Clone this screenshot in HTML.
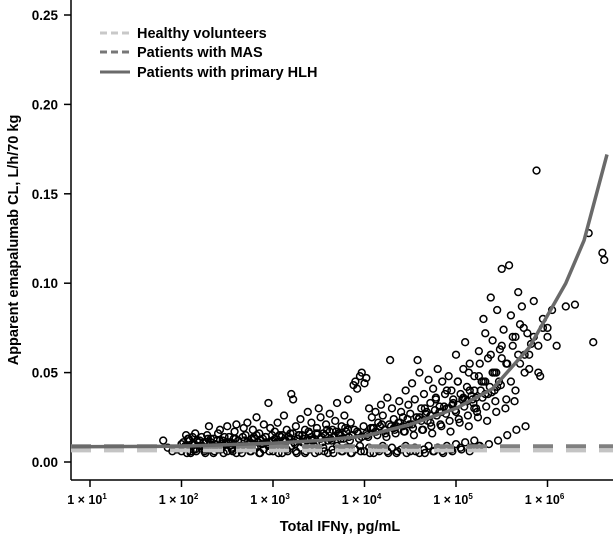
<!DOCTYPE html>
<html><head><meta charset="utf-8"><style>
body{margin:0;background:#fff;}
svg{display:block;font-family:"Liberation Sans",sans-serif;}
</style></head><body>
<svg id="chart" width="613" height="542" viewBox="0 0 613 542">
<g id="ax"></g>
<g id="pts"></g>
<g id="lines"></g>
<g id="legend">
<line x1="100" y1="33" x2="130" y2="33" stroke="#c8c8c8" stroke-width="3" stroke-dasharray="7,4"/>
<text x="137" y="38" font-size="14.5" font-weight="bold">Healthy volunteers</text>
<line x1="100" y1="52" x2="130" y2="52" stroke="#777" stroke-width="3" stroke-dasharray="7,4"/>
<text x="137" y="57" font-size="14.5" font-weight="bold">Patients with MAS</text>
<line x1="100" y1="72" x2="130" y2="72" stroke="#6a6a6a" stroke-width="3"/>
<text x="137" y="77" font-size="14.5" font-weight="bold">Patients with primary HLH</text>
</g>
<text x="18" y="240" transform="rotate(-90 18 240)" text-anchor="middle" font-size="14.5" font-weight="bold">Apparent emapalumab CL, L/h/70 kg</text>
<text x="340" y="531" text-anchor="middle" font-size="14.5" font-weight="bold">Total IFNγ, pg/mL</text>
</svg>
<script>
const yTicks=[0,0.05,0.10,0.15,0.20,0.25];
const yTickLabels=["0.00","0.05","0.10","0.15","0.20","0.25"];
const xTickExps=[1,2,3,4,5,6];
const xTickLabels=["1 × 10","1 × 10","1 × 10","1 × 10","1 × 10","1 × 10"];
const healthyCL=0.0065;
const masCL=0.0088;
const hlhLogIfn=[0.8,2,3,3.5,4,4.5,5,5.4,5.8,6.2,6.4,6.65];
const hlhCL=[0.0085,0.0088,0.0105,0.012,0.0145,0.021,0.03,0.041,0.064,0.100,0.124,0.172];
const ptsLogIfn=[1.8,1.85,1.9,1.95,2.0,2.05,2.08,2.1,2.12,2.15,2.2,2.22,2.25,2.28,2.3,2.32,2.35,2.38,2.4,2.42,2.45,2.48,2.5,2.52,2.55,2.58,2.6,2.62,2.65,2.68,2.7,2.72,2.75,2.78,2.8,2.82,2.85,2.88,2.9,2.92,2.95,2.97,3.0,3.02,3.05,3.08,3.1,3.12,3.15,3.18,3.2,3.22,3.25,3.28,3.3,3.32,3.35,3.38,3.4,3.42,3.45,3.48,3.5,3.52,3.55,3.58,3.6,3.62,3.65,3.68,3.7,3.72,3.75,3.78,3.8,3.82,3.85,3.88,3.9,3.92,3.95,3.97,4.0,4.02,4.05,4.08,4.1,4.12,4.15,4.18,4.2,4.22,4.25,4.28,4.3,4.32,4.35,4.38,4.4,4.42,4.45,4.48,4.5,4.52,4.55,4.58,4.6,4.62,4.65,4.68,4.7,4.72,4.75,4.78,4.8,4.82,4.85,4.88,4.9,4.92,4.95,4.97,5.0,5.02,5.05,5.08,5.1,5.12,5.15,5.18,5.2,5.22,5.25,5.28,5.3,5.32,5.35,5.38,5.4,5.42,5.45,5.48,5.5,5.52,5.55,5.58,5.6,5.62,5.65,5.68,5.7,5.72,5.75,5.78,5.8,5.82,5.85,5.88,5.9,5.92,5.95,6.0,6.05,6.1,6.2,6.3,6.45,6.5,6.6,6.62,
2.0,2.05,2.1,2.15,2.2,2.25,2.3,2.35,2.4,2.45,2.5,2.55,2.6,2.65,2.7,2.75,2.8,2.85,2.9,2.95,3.0,3.05,3.1,3.15,3.2,3.25,3.3,3.35,3.4,3.45,3.5,3.55,3.6,3.65,3.7,3.75,3.8,3.85,3.9,3.95,4.0,4.05,4.1,4.15,4.2,4.25,4.3,4.35,4.4,4.45,4.5,4.55,4.6,4.65,4.7,4.75,4.8,4.85,4.9,4.95,5.0,5.05,5.1,5.15,5.2,5.25,
2.02,2.07,2.12,2.17,2.22,2.27,2.32,2.37,2.42,2.47,2.52,2.57,2.62,2.67,2.72,2.77,2.82,2.87,2.92,2.97,3.02,3.07,3.12,3.17,3.22,3.27,3.32,3.37,3.42,3.47,3.52,3.57,3.62,3.67,3.72,3.77,3.82,3.87,3.92,3.97,4.02,4.07,4.12,4.17,4.22,4.27,4.32,4.37,4.42,4.47,4.52,4.57,4.62,4.67,4.72,4.77,4.82,4.87,4.92,4.97,5.02,5.07,5.12,5.17,5.22,5.27,5.32,5.37,5.42,5.47,
2.04,2.14,2.24,2.34,2.44,2.54,2.64,2.74,2.84,2.94,3.04,3.14,3.24,3.34,3.44,3.54,3.64,3.74,3.84,3.94,4.04,4.14,4.24,4.34,4.44,4.54,4.64,4.74,4.84,4.94,5.04,5.14,5.24,5.34,5.44,5.54,5.64,
2.03,2.09,2.13,2.19,2.23,2.29,2.33,2.39,2.43,2.49,2.53,2.59,2.63,2.69,2.73,2.79,2.83,2.89,2.93,2.99,3.03,3.09,3.13,3.19,3.23,3.29,3.33,3.39,3.43,3.49,3.53,3.59,3.63,3.69,3.73,3.79,3.83,3.89,3.93,3.99,4.03,4.09,4.13,4.19,4.23,4.29,4.33,4.39,4.43,4.49,4.53,4.59,4.63,4.69,4.73,4.79,4.83,4.89,4.93,4.99,5.03,5.09,5.13,5.19,5.23,5.29,5.33,5.39,5.43,5.49,
2.06,2.16,2.26,2.36,2.46,2.56,2.66,2.76,2.86,2.96,3.06,3.16,3.26,3.36,3.46,3.56,3.66,3.76,3.86,3.96,4.06,4.16,4.26,4.36,4.46,4.56,4.66,4.76,4.86,4.96,5.06,5.16,5.26,5.36,5.46,5.56,5.66,5.76,
4.6,4.66,4.72,4.78,4.84,4.9,4.96,5.02,5.08,5.14,5.2,5.26,5.32,5.38,5.44,5.5,5.56,5.62,5.68,5.74,5.55,5.6,5.65,5.7,5.75,5.8,5.85,5.9,5.95,6.0,5.3,5.35,5.4,5.45,5.5,5.1,5.15,5.2,5.25,5.0];
const ptsCL=[0.012,0.008,0.006,0.007,0.01,0.015,0.013,0.006,0.014,0.016,0.012,0.009,0.007,0.015,0.02,0.011,0.013,0.008,0.016,0.018,0.012,0.01,0.02,0.014,0.007,0.017,0.021,0.012,0.009,0.019,0.015,0.022,0.011,0.018,0.013,0.025,0.016,0.01,0.021,0.014,0.033,0.019,0.012,0.017,0.022,0.009,0.015,0.026,0.018,0.013,0.038,0.035,0.02,0.015,0.024,0.011,0.018,0.028,0.016,0.022,0.013,0.019,0.03,0.025,0.016,0.021,0.012,0.027,0.018,0.023,0.033,0.015,0.02,0.026,0.017,0.035,0.022,0.043,0.045,0.041,0.048,0.05,0.044,0.047,0.03,0.025,0.019,0.028,0.022,0.032,0.026,0.018,0.036,0.057,0.03,0.024,0.02,0.034,0.028,0.025,0.04,0.032,0.027,0.044,0.035,0.057,0.05,0.03,0.038,0.028,0.046,0.033,0.041,0.036,0.052,0.031,0.045,0.038,0.03,0.048,0.04,0.035,0.06,0.045,0.038,0.052,0.067,0.042,0.055,0.035,0.048,0.03,0.062,0.045,0.08,0.072,0.058,0.092,0.068,0.05,0.085,0.063,0.108,0.074,0.055,0.11,0.082,0.065,0.07,0.095,0.077,0.087,0.06,0.072,0.052,0.066,0.09,0.163,0.05,0.048,0.08,0.075,0.085,0.065,0.087,0.088,0.128,0.067,0.117,0.113,
0.006,0.008,0.005,0.007,0.009,0.006,0.008,0.005,0.007,0.009,0.006,0.008,0.005,0.007,0.009,0.006,0.008,0.005,0.007,0.009,0.006,0.008,0.005,0.007,0.009,0.006,0.008,0.005,0.007,0.009,0.006,0.008,0.005,0.007,0.009,0.006,0.008,0.005,0.007,0.009,0.006,0.008,0.005,0.007,0.009,0.006,0.008,0.005,0.007,0.009,0.006,0.008,0.005,0.007,0.009,0.006,0.008,0.006,0.009,0.007,0.01,0.008,0.011,0.006,0.012,0.009,
0.011,0.013,0.01,0.012,0.014,0.011,0.013,0.01,0.012,0.014,0.011,0.013,0.012,0.014,0.011,0.013,0.015,0.012,0.014,0.011,0.013,0.015,0.012,0.014,0.016,0.013,0.015,0.012,0.014,0.016,0.013,0.015,0.017,0.014,0.016,0.013,0.018,0.015,0.017,0.014,0.016,0.019,0.017,0.02,0.018,0.021,0.019,0.022,0.02,0.024,0.021,0.025,0.023,0.027,0.026,0.029,0.028,0.031,0.03,0.033,0.032,0.035,0.034,0.037,0.036,0.04,0.038,0.042,0.04,0.045,
0.009,0.01,0.011,0.009,0.01,0.011,0.009,0.01,0.011,0.01,0.011,0.012,0.01,0.011,0.012,0.011,0.012,0.013,0.012,0.013,0.014,0.015,0.014,0.016,0.017,0.015,0.018,0.016,0.02,0.017,0.022,0.02,0.025,0.023,0.028,0.03,0.034,
0.008,0.012,0.007,0.011,0.009,0.013,0.008,0.012,0.007,0.011,0.009,0.013,0.008,0.012,0.01,0.014,0.009,0.013,0.011,0.015,0.01,0.014,0.012,0.016,0.011,0.015,0.013,0.017,0.012,0.016,0.014,0.018,0.013,0.017,0.015,0.019,0.014,0.018,0.016,0.02,0.015,0.019,0.017,0.021,0.016,0.02,0.018,0.022,0.017,0.021,0.019,0.024,0.018,0.023,0.02,0.026,0.021,0.027,0.023,0.029,0.024,0.031,0.026,0.033,0.028,0.036,0.031,0.039,0.034,0.043,
0.005,0.006,0.005,0.006,0.005,0.006,0.005,0.006,0.005,0.006,0.005,0.006,0.005,0.006,0.005,0.006,0.005,0.006,0.005,0.006,0.005,0.006,0.005,0.006,0.005,0.006,0.005,0.006,0.005,0.006,0.007,0.008,0.009,0.01,0.012,0.015,0.018,0.02,
0.025,0.03,0.022,0.035,0.028,0.04,0.032,0.045,0.036,0.05,0.04,0.055,0.045,0.06,0.05,0.065,0.055,0.07,0.06,0.075,0.035,0.045,0.04,0.055,0.05,0.06,0.07,0.065,0.075,0.07,0.045,0.038,0.05,0.042,0.058,0.035,0.04,0.03,0.048,0.028];
const NS="http://www.w3.org/2000/svg";
const X0=90,DEC=91.5,Y0=462,YS=447/0.25;
function xs(l){return X0+(l-1)*DEC;}
function ys(v){return Y0-v*YS;}
function mk(tag,attrs,parent){const e=document.createElementNS(NS,tag);for(const k in attrs)e.setAttribute(k,attrs[k]);parent.appendChild(e);return e;}
const ax=document.getElementById('ax');
let a=mk('line',{x1:71,y1:0,x2:71,y2:480,stroke:'#000','stroke-width':1.5},ax);


a=mk('line',{x1:71,y1:480,x2:613,y2:480,stroke:'#000','stroke-width':1.5},ax);


yTicks.forEach((v,i)=>{
 mk('line',{x1:64,y1:ys(v),x2:71,y2:ys(v),stroke:'#000','stroke-width':1.5},ax);
 const t=mk('text',{x:58,y:ys(v)+5,'text-anchor':'end','font-size':13.5,'font-weight':'bold'},ax);
 t.textContent=yTickLabels[i];
 
 
});
xTickExps.forEach((e,i)=>{
 const x=xs(e);
 mk('line',{x1:x,y1:480,x2:x,y2:487,stroke:'#000','stroke-width':1.5},ax);
 const t=mk('text',{x:x-3,y:504,'text-anchor':'middle','font-size':12.5,'font-weight':'bold'},ax);
 t.textContent=xTickLabels[i];
 const s=mk('tspan',{dy:-5,'font-size':8},t);s.textContent=String(e);
 
 
});
const pg=document.getElementById('pts');
ptsLogIfn.forEach((l,i)=>{
 const c=mk('circle',{cx:xs(l),cy:ys(ptsCL[i]),r:3.4,fill:'none',stroke:'#000','stroke-width':1.5},pg);
 
 
});
const lg=document.getElementById('lines');
let h=mk('line',{x1:71,y1:ys(healthyCL),x2:613,y2:ys(healthyCL),stroke:'#c4c4c4','stroke-width':4,'stroke-dasharray':'20,13'},lg);


h=mk('line',{x1:71,y1:ys(masCL),x2:613,y2:ys(masCL),stroke:'#808080','stroke-width':4,'stroke-dasharray':'20,13'},lg);


const d=hlhLogIfn.map((l,i)=>(i?'L':'M')+xs(l).toFixed(1)+','+ys(hlhCL[i]).toFixed(1)).join(' ');
h=mk('path',{d:d,fill:'none',stroke:'#6a6a6a','stroke-width':3.5,'stroke-linejoin':'round'},lg);


</script>
</body></html>
